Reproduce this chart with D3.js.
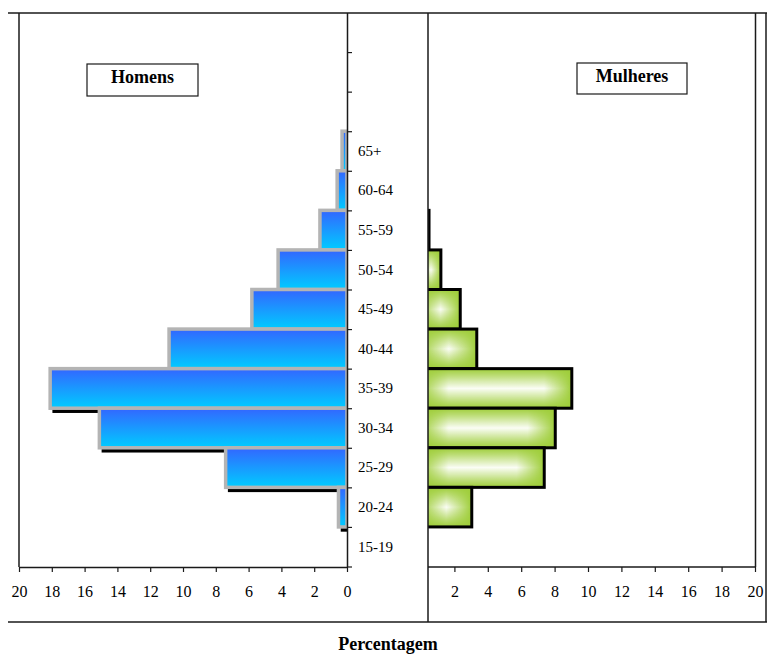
<!DOCTYPE html>
<html><head><meta charset="utf-8">
<script src="https://cdn.jsdelivr.net/npm/d3@7"></script>
<style>
body{margin:0;background:#fff}
svg{display:block}
text{font-family:"Liberation Serif","Times New Roman",serif;fill:#000}
</style>
</head><body>
<svg id="c" width="767" height="654"></svg>
<script>
// ---- data ----
const emptyRows = ["r1", "r2", "r3"];
const ageGroups = ["65+", "60-64", "55-59", "50-54", "45-49", "40-44", "35-39", "30-34", "25-29", "20-24", "15-19"];
const menPct   = [0.3, 0.6, 1.65, 4.2, 5.8, 10.85, 18.1, 15.1, 7.4, 0.52, 0];
const womenPct = [0, 0, 0.48, 1.19, 2.35, 3.34, 9.03, 8.04, 7.38, 3.04, 0];
const leftTicks  = [0, 2, 4, 6, 8, 10, 12, 14, 16, 18, 20];
const rightTicks = [2, 4, 6, 8, 10, 12, 14, 16, 18, 20];
const menLabel = "Homens", womenLabel = "Mulheres", xTitle = "Percentagem";

const men = ageGroups.map((g, i) => ({g, v: menPct[i]}));
const women = ageGroups.map((g, i) => ({g, v: womenPct[i]}));

const svg = d3.select("#c");
const defs = svg.append("defs");

// scales
const y = d3.scaleBand().domain([...emptyRows, ...ageGroups]).range([12.5, 566.5]).padding(0);
const yIdx = d3.scaleLinear().domain([0, 14]).range([12.5, 566.5]);
const xL = d3.scaleLinear().domain([20, 0]).range([19, 347]);
const xR = d3.scaleLinear().domain([0, 20]).range([421, 755]);
const bw = y.bandwidth();
const axisBottomY = 567;

// gradients
const blue = defs.append("linearGradient").attr("id", "blue").attr("x1", 0).attr("y1", 0).attr("x2", 0).attr("y2", 1);
blue.append("stop").attr("offset", 0).attr("stop-color", "#3366ff");
blue.append("stop").attr("offset", 1).attr("stop-color", "#00ccff");

const vg = defs.append("linearGradient").attr("id", "vg").attr("x1", 0).attr("y1", 0).attr("x2", 0).attr("y2", 1);
[[0, "#000"], [0.18, "#555"], [0.5, "#fff"], [0.82, "#555"], [1, "#000"]]
  .forEach(s => vg.append("stop").attr("offset", s[0]).attr("stop-color", s[1]));
defs.append("mask").attr("id", "vm").attr("maskContentUnits", "objectBoundingBox")
  .append("rect").attr("width", 1).attr("height", 1).attr("fill", "url(#vg)");

defs.append("clipPath").attr("id", "clipL").append("rect")
  .attr("x", 19).attr("y", 10).attr("width", 328).attr("height", 561);
defs.append("clipPath").attr("id", "clipR").append("rect")
  .attr("x", 428).attr("y", 10).attr("width", 335).attr("height", 561);

// ---- left (men) bars ----
const gL = svg.append("g").attr("clip-path", "url(#clipL)");
const sw = 3.5;
gL.selectAll("rect.sh").data(men.filter(d => d.v > 0)).join("rect").attr("class", "sh")
  .attr("x", d => xL(d.v) - sw / 2 + 4)
  .attr("y", d => y(d.g) - sw / 2 + 3)
  .attr("width", d => xL(0) - xL(d.v) + sw)
  .attr("height", bw + sw)
  .attr("fill", "#000");
gL.selectAll("rect.bar").data(men.filter(d => d.v > 0)).join("rect").attr("class", "bar")
  .attr("x", d => xL(d.v))
  .attr("y", d => y(d.g))
  .attr("width", d => xL(0) - xL(d.v))
  .attr("height", bw)
  .attr("fill", "url(#blue)")
  .attr("stroke", "#b4b4b4")
  .attr("stroke-width", sw);

// ---- right (women) bars ----
const gR = svg.append("g").attr("clip-path", "url(#clipR)");
const wd = women.filter(d => d.v > 0);
wd.forEach((d, i) => {
  const x0 = xR(0), x1 = xR(d.v), w = x1 - x0;
  const r = Math.min(0.5, (bw * 0.7) / w);
  const hg = defs.append("linearGradient").attr("id", "hg" + i)
    .attr("gradientUnits", "userSpaceOnUse").attr("x1", x0).attr("x2", x1).attr("y1", 0).attr("y2", 0);
  hg.append("stop").attr("offset", 0).attr("stop-color", "#fff").attr("stop-opacity", 0);
  hg.append("stop").attr("offset", r).attr("stop-color", "#fff").attr("stop-opacity", 0.95);
  hg.append("stop").attr("offset", 1 - r).attr("stop-color", "#fff").attr("stop-opacity", 0.95);
  hg.append("stop").attr("offset", 1).attr("stop-color", "#fff").attr("stop-opacity", 0);
  const g = gR.append("g");
  g.append("rect").attr("x", x0).attr("y", y(d.g)).attr("width", w).attr("height", bw).attr("fill", "#9fce3a");
  g.append("rect").attr("x", x0).attr("y", y(d.g)).attr("width", w).attr("height", bw)
    .attr("fill", "url(#hg" + i + ")").attr("mask", "url(#vm)");
  g.append("rect").attr("x", x0).attr("y", y(d.g)).attr("width", w).attr("height", bw)
    .attr("fill", "none").attr("stroke", "#000").attr("stroke-width", 3);
});

// ---- axes ----
const ax = svg.append("g");
const axL = ax.append("g").attr("transform", `translate(0,${axisBottomY})`)
  .call(d3.axisBottom(xL).tickValues(leftTicks).tickSize(5).tickSizeOuter(0).tickPadding(14).tickFormat(d3.format("d")));
const axR = ax.append("g").attr("transform", `translate(0,${axisBottomY})`)
  .call(d3.axisBottom(xR).tickValues(rightTicks).tickSize(5).tickSizeOuter(0).tickPadding(14).tickFormat(d3.format("d")));
axR.select(".domain").remove();
const axY = ax.append("g").attr("transform", `translate(${xL(0)},0)`)
  .call(d3.axisRight(yIdx).tickValues(d3.range(1, 15)).tickSize(5).tickSizeOuter(0).tickFormat(""));
const axLab = ax.append("g").attr("transform", `translate(${xL(0)},0)`)
  .call(d3.axisRight(y).tickSize(0).tickPadding(11).tickFormat(d => emptyRows.includes(d) ? "" : d));
axLab.select(".domain").remove();

ax.selectAll(".domain").attr("stroke", "#1a1a1a").attr("stroke-width", 1.5);
ax.selectAll(".tick line").attr("stroke", "#1a1a1a").attr("stroke-width", 1.2);
ax.selectAll("text").attr("font-family", "'Liberation Serif','Times New Roman',serif").attr("fill", "#000");
axL.selectAll("text").attr("font-size", 16);
axR.selectAll("text").attr("font-size", 16);
axLab.selectAll("text").attr("font-size", 15);

// ---- frame lines ----
const lines = [
  [8, 13, 767, 13],
  [19, 13, 19, axisBottomY],
  [428, 13, 428, 622],
  [428, axisBottomY, 755.5, axisBottomY],
  [755.5, 13, 755.5, axisBottomY],
  [766, 13, 766, 622],
  [8, 622, 767, 622]
];
svg.append("g").selectAll("line").data(lines).join("line")
  .attr("x1", d => d[0]).attr("y1", d => d[1]).attr("x2", d => d[2]).attr("y2", d => d[3])
  .attr("stroke", "#1a1a1a").attr("stroke-width", 1.5);

// ---- labels ----
const boxes = [
  {t: menLabel, x: 87, y: 64, w: 111, h: 32},
  {t: womenLabel, x: 577, y: 63, w: 110, h: 31}
];
const lb = svg.append("g").selectAll("g").data(boxes).join("g");
lb.append("rect").attr("x", d => d.x).attr("y", d => d.y).attr("width", d => d.w).attr("height", d => d.h)
  .attr("fill", "#fff").attr("stroke", "#1a1a1a").attr("stroke-width", 1.2);
lb.append("text").attr("x", d => d.x + d.w / 2).attr("y", d => d.y + 19)
  .attr("text-anchor", "middle").attr("font-size", 18).attr("font-weight", "bold").text(d => d.t);

svg.append("text").attr("x", 388).attr("y", 650).attr("text-anchor", "middle")
  .attr("font-size", 18).attr("font-weight", "bold").text(xTitle);
</script>
</body></html>
